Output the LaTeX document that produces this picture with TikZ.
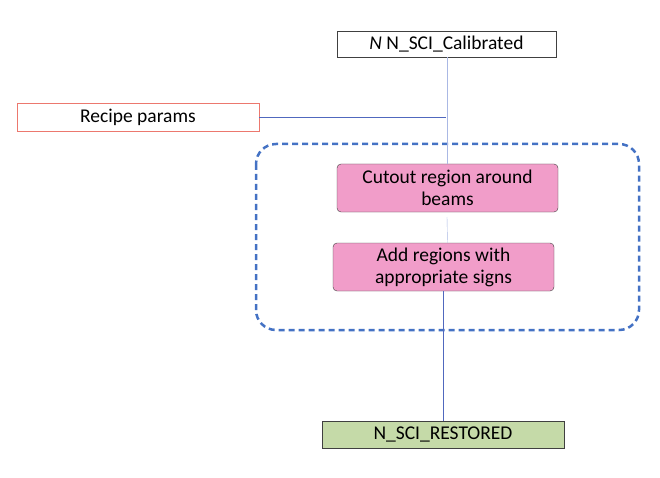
\documentclass[tikz,border=0pt]{standalone}
\usepackage{fontspec}
\setmainfont{Carlito}
\definecolor{pinkfill}{RGB}{241,157,201}
\definecolor{greenfill}{RGB}{197,218,168}
\definecolor{salmon}{RGB}{236,120,110}
\definecolor{dashblue}{RGB}{68,114,196}
\definecolor{paleblue}{RGB}{170,184,228}
\definecolor{lineblue}{RGB}{80,104,190}
\begin{document}
\begin{tikzpicture}[x=1pt,y=-1pt,font=\fontsize{19.5}{22}\selectfont,
  plain/.style={draw=black!75, inner sep=0pt, minimum height=26pt},
  step box/.style={draw=black!75, fill=pinkfill, rounded corners=4pt, align=center, inner sep=0pt, minimum width=221pt, minimum height=48pt}]
\useasboundingbox (0,0) rectangle (660,478);

\node[plain, minimum width=219pt] (1) at (446.5,44) {\textit{N} N\_SCI\_Calibrated};
\node[plain, draw=salmon, minimum width=242pt, minimum height=28pt] (2) at (138,117) {Recipe params};
\node[step box] (3) at (447.5,188) {Cutout region around\\beams};
\node[step box] (4) at (443.5,267) {Add regions with\\appropriate signs};
\node[plain, fill=greenfill, minimum width=242pt, minimum height=27pt] (5) at (443,434.5) {N\_SCI\_RESTORED};

% dashed group
\draw[dashblue, line width=2.5pt, dash pattern=on 6pt off 4pt, rounded corners=20pt] (256,144) rectangle (639,330);

\path[draw,paleblue,-] (1.south -| 3.north) -- (3.north);
\path[draw,lineblue,-] (2.east) -- (446,117);
\path[draw,paleblue,-] (447,217) -- (3.south |- 4.north);
\path[draw,lineblue,-] (4.south) -- (4.south |- 5.north);
\end{tikzpicture}
\end{document}
